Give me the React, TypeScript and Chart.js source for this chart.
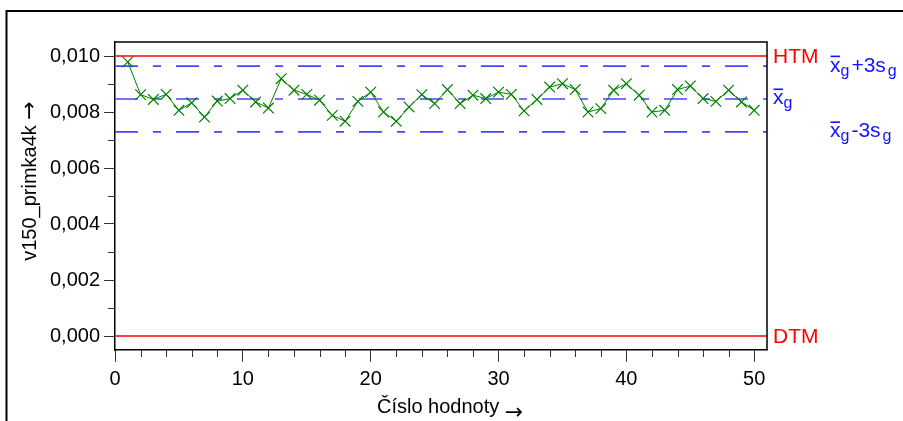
import React, { useEffect, useRef } from "react";
import { Chart, registerables } from "chart.js";

Chart.register(...registerables);

// ---- data ----
const sampleNumbers = [
  1, 2, 3, 4, 5, 6, 7, 8, 9, 10, 11, 12, 13, 14, 15, 16, 17, 18, 19, 20, 21, 22, 23, 24, 25,
  26, 27, 28, 29, 30, 31, 32, 33, 34, 35, 36, 37, 38, 39, 40, 41, 42, 43, 44, 45, 46, 47, 48, 49, 50,
];
const values = [
  0.00979, 0.00862, 0.00845, 0.00863, 0.00806, 0.00833, 0.00782, 0.00839, 0.00848, 0.00878,
  0.00836, 0.00814, 0.00919, 0.00878, 0.00863, 0.00842, 0.00788, 0.00767, 0.00838, 0.00871,
  0.008, 0.00767, 0.00818, 0.00862, 0.0083, 0.0088, 0.0083, 0.0086, 0.00848, 0.00871,
  0.00863, 0.00804, 0.00845, 0.00889, 0.00901, 0.0088, 0.008, 0.00812, 0.00878, 0.00901,
  0.0086, 0.008, 0.00806, 0.0088, 0.00893, 0.00848, 0.00838, 0.00878, 0.00836, 0.00806,
];
const upperTol = 0.01; // HTM
const lowerTol = 0.0; // DTM
const meanLine = 0.008465;
const upperCtrl = 0.00964;
const lowerCtrl = 0.00729;

const xRange = [0, 51];
const yRange = [-0.0005, 0.0105];
const xMinorTicks = [2, 4, 6, 8, 12, 14, 16, 18, 22, 24, 26, 28, 32, 34, 36, 38, 42, 44, 46, 48];
const yMinorTicks = [0.001, 0.003, 0.005, 0.007, 0.009];

const xTitle = "Číslo hodnoty";
const yTitle = "v150_primka4k";
const arrow = "\u2192";

const FONT = '"Liberation Sans", Arial, sans-serif';
const ARROW_FONT = '22px "DejaVu Sans", sans-serif';
const BLUE = "#1414ff";
const LINE_BLUE = "#4646ff";
const RED = "#ff0000";

function drawXbar(ctx: CanvasRenderingContext2D, x: number, yMid: number, tail: string) {
  const base = yMid + 5.5;
  ctx.fillStyle = BLUE;
  ctx.textAlign = "left";
  ctx.textBaseline = "alphabetic";
  ctx.font = `21px ${FONT}`;
  ctx.fillText("x", x, base);
  const wx = ctx.measureText("x").width;
  ctx.fillRect(x + 0.5, base - 16, wx - 1, 1.6);
  let cx = x + wx;
  ctx.font = `16px ${FONT}`;
  ctx.fillText("g", cx, base + 4);
  cx += ctx.measureText("g").width + 2;
  if (tail) {
    ctx.font = `21px ${FONT}`;
    ctx.fillText(tail, cx, base);
    cx += ctx.measureText(tail).width + 2;
    ctx.font = `16px ${FONT}`;
    ctx.fillText("g", cx, base + 4);
  }
}

const overlay = {
  id: "overlay",
  beforeDraw(chart: any) {
    const ctx = chart.ctx as CanvasRenderingContext2D;
    ctx.save();
    ctx.fillStyle = "#fff";
    ctx.fillRect(0, 0, chart.width, chart.height);
    ctx.strokeStyle = "#000";
    ctx.lineWidth = 2;
    ctx.beginPath();
    ctx.moveTo(6.5, chart.height + 5);
    ctx.lineTo(6.5, 11);
    ctx.lineTo(chart.width + 5, 11);
    ctx.stroke();
    ctx.restore();
  },
  afterDraw(chart: any) {
    const ctx = chart.ctx as CanvasRenderingContext2D;
    const a = chart.chartArea;
    const x = chart.scales.x;
    const y = chart.scales.y;
    ctx.save();
    // box top & right
    ctx.strokeStyle = "#000";
    ctx.lineWidth = 1.5;
    ctx.beginPath();
    ctx.moveTo(a.left, a.top);
    ctx.lineTo(a.right, a.top);
    ctx.lineTo(a.right, a.bottom);
    ctx.stroke();
    // minor ticks
    ctx.strokeStyle = "#333";
    ctx.lineWidth = 1;
    ctx.beginPath();
    for (const v of xMinorTicks) {
      const px = Math.round(x.getPixelForValue(v)) + 0.5;
      ctx.moveTo(px, a.bottom);
      ctx.lineTo(px, a.bottom + 7);
    }
    for (const v of yMinorTicks) {
      const py = Math.round(y.getPixelForValue(v)) + 0.5;
      ctx.moveTo(a.left, py);
      ctx.lineTo(a.left - 7, py);
    }
    ctx.stroke();
    // axis titles
    ctx.fillStyle = "#000";
    ctx.textBaseline = "middle";
    ctx.textAlign = "left";
    ctx.font = `20px ${FONT}`;
    const tx = 377;
    ctx.fillText(xTitle + " ", tx, 407);
    const w = ctx.measureText(xTitle + " ").width;
    ctx.font = ARROW_FONT;
    ctx.fillText(arrow, tx + w, 413);

    ctx.save();
    ctx.translate(30, 181);
    ctx.rotate(-Math.PI / 2);
    ctx.font = `20px ${FONT}`;
    const wt = ctx.measureText(yTitle + " ").width;
    ctx.font = ARROW_FONT;
    const wa = ctx.measureText(arrow).width;
    const start = -(wt + wa) / 2;
    ctx.font = `20px ${FONT}`;
    ctx.fillText(yTitle + " ", start, 0);
    ctx.font = ARROW_FONT;
    ctx.fillText(arrow, start + wt, 0);
    ctx.restore();

    // right labels
    ctx.font = `21px ${FONT}`;
    ctx.fillStyle = RED;
    ctx.textBaseline = "middle";
    ctx.textAlign = "left";
    ctx.fillText("HTM", a.right + 6, y.getPixelForValue(upperTol) + 1);
    ctx.fillText("DTM", a.right + 6, y.getPixelForValue(lowerTol) + 1);
    drawXbar(ctx, a.right + 6, y.getPixelForValue(meanLine), "");
    drawXbar(ctx, a.right + 63, y.getPixelForValue(upperCtrl), "+3s");
    drawXbar(ctx, a.right + 63, y.getPixelForValue(lowerCtrl), "-3s");
    ctx.restore();
  },
};

function hline(value: number, color: string, dash: number[], width: number) {
  return {
    data: [
      { x: xRange[0], y: value },
      { x: xRange[1], y: value },
    ],
    borderColor: color,
    borderWidth: width,
    borderDash: dash,
    pointRadius: 0,
    fill: false,
  };
}

export default function App() {
  const ref = useRef<HTMLCanvasElement | null>(null);
  useEffect(() => {
    if (!ref.current) return;
    const dash = [23, 15, 8, 15];
    const chart = new Chart(ref.current, {
      type: "line",
      data: {
        datasets: [
          {
            data: sampleNumbers.map((n, i) => ({ x: n, y: values[i] })),
            borderColor: "#008000",
            borderWidth: 1,
            pointStyle: "crossRot",
            pointRadius: 7.5,
            pointBorderColor: "#008000",
            pointBorderWidth: 1.2,
            fill: false,
            tension: 0,
          } as any,
          hline(upperTol, RED, [], 1.6),
          hline(lowerTol, RED, [], 1.6),
          hline(upperCtrl, LINE_BLUE, dash, 1.6),
          hline(meanLine, LINE_BLUE, dash, 1.6),
          hline(lowerCtrl, LINE_BLUE, dash, 1.6),
        ],
      },
      options: {
        responsive: false,
        animation: false,
        layout: { padding: { left: 0, top: 42, right: 136, bottom: 0 } },
        plugins: { legend: { display: false }, tooltip: { enabled: false } },
        scales: {
          x: {
            type: "linear",
            min: xRange[0],
            max: xRange[1],
            afterFit: (s: any) => {
              s.height = 71;
            },
            border: { display: true, color: "#000", width: 1.5 },
            grid: { drawOnChartArea: false, drawTicks: true, tickLength: 12, color: "#333" },
            ticks: {
              stepSize: 10,
              includeBounds: false,
              autoSkip: false,
              maxRotation: 0,
              padding: 5,
              color: "#000",
              font: { size: 20, family: FONT },
              callback: (v: any) => String(v),
            },
          },
          y: {
            type: "linear",
            min: yRange[0],
            max: yRange[1],
            afterFit: (s: any) => {
              s.width = 115;
            },
            border: { display: true, color: "#000", width: 1.5 },
            grid: { drawOnChartArea: false, drawTicks: true, tickLength: 11, color: "#333" },
            ticks: {
              stepSize: 0.002,
              includeBounds: false,
              autoSkip: false,
              padding: 4,
              color: "#000",
              font: { size: 20, family: FONT },
              callback: (v: any) => Number(v).toFixed(3).replace(".", ","),
            },
          },
        },
      } as any,
      plugins: [overlay],
    });
    return () => chart.destroy();
  }, []);
  return (
    <div style={{ position: "absolute", left: 0, top: 0, width: 903, height: 421 }}>
      <canvas ref={ref} width={903} height={421} style={{ display: "block" }} />
    </div>
  );
}
